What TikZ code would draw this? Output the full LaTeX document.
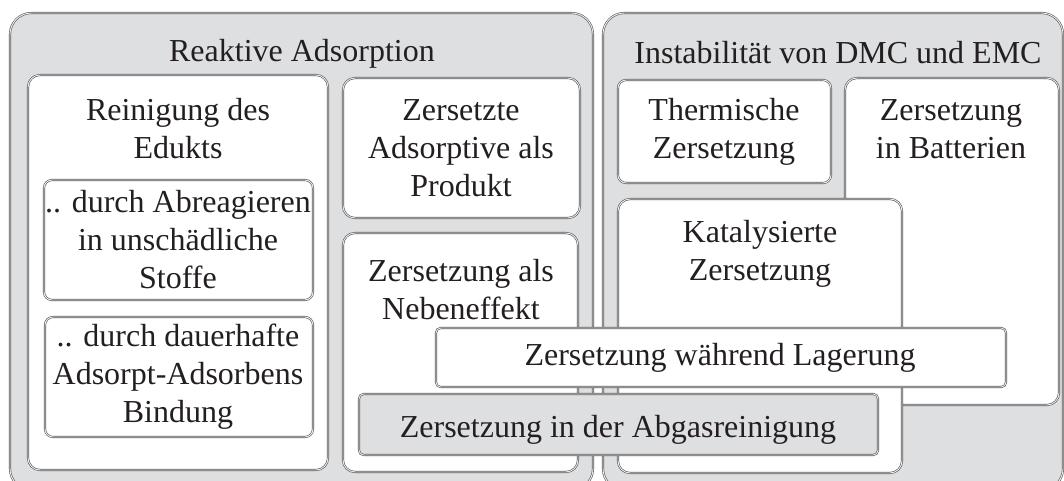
\documentclass[tikz,border=0pt]{standalone}
\usepackage{fontspec}
\setmainfont{Liberation Serif}
\definecolor{bgfill}{RGB}{222,223,225}
\definecolor{edge}{RGB}{90,90,92}
\definecolor{txt}{RGB}{35,31,32}
\tikzset{
  frame/.style={draw=edge, line width=0.45pt, double=white!85!gray, double distance=0.7pt},
  outerbox/.style={frame, fill=bgfill, rounded corners=16pt},
  innerbox/.style={frame, fill=white, rounded corners=9pt},
  subbox/.style={frame, fill=white, rounded corners=6pt},
  barbox/.style={frame, fill=white, rounded corners=3.5pt},
  graybar/.style={frame, fill=bgfill, rounded corners=3.5pt},
  lbl/.style={align=center, text=txt, inner sep=0pt, font=\fontsize{24}{28.5}\selectfont}
}
\begin{document}
\begin{tikzpicture}[x=0.75pt, y=-0.75pt]
\useasboundingbox (0,0) rectangle (1064,480);
\clip (0,0) rectangle (1064,480);
% outer groups
\path[outerbox] (10,13) rectangle (593,490);
\path[outerbox] (603,13) rectangle (1063,490);
\node[lbl] (t1) at (302,54) {Reaktive Adsorption};
\node[lbl] (t2) at (838,53) {Instabilität von DMC und EMC};
% left group
\path[innerbox] (28,75) rectangle (328,470);
\node[lbl] (a) at (178,129) {Reinigung des\\Edukts};
\path[subbox] (44,180) rectangle (313,300);
\node[lbl] (a1) at (178,240) {.. durch Abreagieren\\in unschädliche\\Stoffe};
\path[subbox] (45,317) rectangle (313,437);
\node[lbl] (a2) at (178,377) {.. durch dauerhafte\\Adsorpt-Adsorbens\\Bindung};
\path[innerbox] (343,78) rectangle (580,218);
\node[lbl] (b) at (461,148) {Zersetzte\\Adsorptive als\\Produkt};
\path[innerbox] (343,233) rectangle (578,472);
\node[lbl] (c) at (461,290) {Zersetzung als\\Nebeneffekt};
% right group
\path[subbox] (618,80) rectangle (831,183);
\node[lbl] (d) at (724,132) {Thermische\\Zersetzung};
\path[innerbox] (845,78) rectangle (1059,405);
\node[lbl] (e) at (951,129) {Zersetzung\\in Batterien};
\path[innerbox] (618,199) rectangle (902,473);
\node[lbl] (f) at (760,254) {Katalysierte\\Zersetzung};
% bars
\path[barbox] (436,328) rectangle (1006,387);
\node[lbl] (g) at (720,358) {Zersetzung während Lagerung};
\path[graybar] (359,394) rectangle (878,455);
\node[lbl] (h) at (618,430) {Zersetzung in der Abgasreinigung};
\end{tikzpicture}
\end{document}
